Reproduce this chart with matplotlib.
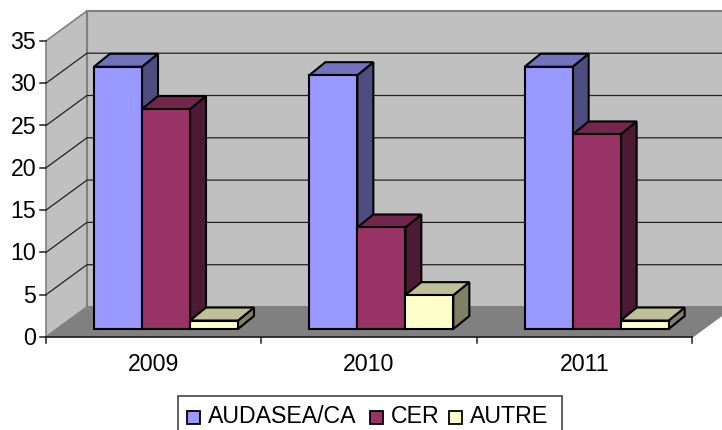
import matplotlib
matplotlib.use('Agg')
import matplotlib.pyplot as plt
from matplotlib.patches import Polygon, Rectangle

plt.rcParams['font.family'] = ['Liberation Sans', 'DejaVu Sans']

years = ['2009', '2010', '2011']
series_names = ['AUDASEA/CA', 'CER', 'AUTRE']
audasea = [31, 30, 31]
cer = [26, 12, 23]
autre = [1, 4, 1]
y_ticks = [0, 5, 10, 15, 20, 25, 30, 35]

front_colors = ['#9999ff', '#993366', '#ffffcc']
top_colors = ['#7272bf', '#73264c', '#bfbf99']
side_colors = ['#4d4d80', '#4d1a33', '#808066']

# pixel geometry of the fake 3d box
X0, X1 = 46, 692
Y0 = 337
UNIT = 8.46
DX, DY = 41, -30
BAR_W = 48
BAR_DX, BAR_DY = 16, -13
BASE_SHIFT_X, BASE_SHIFT_Y = 48, -8
GROUP_W = (X1 - X0) / len(years)
FONT = 16.7


def vy(v):
    return Y0 - v * UNIT


fig = plt.figure(figsize=(7.22, 4.30), dpi=100)
ax = fig.add_axes([0, 0, 1, 1])
ax.set_xlim(0, 722)
ax.set_ylim(430, 0)
ax.axis('off')

top = y_ticks[-1]
# walls and floor
ax.add_patch(Polygon([(X0, vy(0)), (X0 + DX, vy(0) + DY), (X0 + DX, vy(top) + DY), (X0, vy(top))],
                     fc='#c0c0c0', ec='#808080', lw=1.2, zorder=1))
ax.add_patch(Rectangle((X0 + DX, vy(top) + DY), 700, vy(0) - vy(top),
                       fc='#c0c0c0', ec='#808080', lw=1.5, zorder=1))
ax.add_patch(Polygon([(X0, vy(0)), (X0 + DX, vy(0) + DY), (X1 + DX, vy(0) + DY), (X1, vy(0))],
                     fc='#808080', ec='#808080', lw=1, zorder=2))

# gridlines
for t in y_ticks[1:-1]:
    ax.plot([X0, X0 + DX, 722], [vy(t), vy(t) + DY, vy(t) + DY], color='#222222', lw=0.9, zorder=3)

# bars
for i in range(len(years)):
    vals = [audasea[i], cer[i], autre[i]]
    for j, v in enumerate(vals):
        x = X0 + BASE_SHIFT_X + i * GROUP_W + j * BAR_W
        b = vy(0) + BASE_SHIFT_Y
        t = b - v * UNIT
        ax.add_patch(Polygon([(x + BAR_W, b), (x + BAR_W + BAR_DX, b + BAR_DY),
                              (x + BAR_W + BAR_DX, t + BAR_DY), (x + BAR_W, t)],
                             fc=side_colors[j], ec='black', lw=1.5, zorder=4 + j))
        ax.add_patch(Polygon([(x, t), (x + BAR_DX, t + BAR_DY), (x + BAR_W + BAR_DX, t + BAR_DY), (x + BAR_W, t)],
                             fc=top_colors[j], ec='black', lw=1.5, zorder=4 + j))
        ax.add_patch(Rectangle((x, t), BAR_W, b - t, fc=front_colors[j], ec='black', lw=1.5, zorder=4 + j))

# axes lines and ticks
ax.plot([X0, X1], [vy(0), vy(0)], color='#222222', lw=1.2, zorder=10)
ax.plot([X1, X1 + DX], [vy(0), vy(0) + DY], color='#808080', lw=1, zorder=3)
for t in y_ticks:
    ax.plot([X0 - 6, X0], [vy(t), vy(t)], color='#222222', lw=1.1, zorder=10)
    ax.text(36, vy(t) + 8, str(t), ha='right', va='baseline', fontsize=FONT, color='black')
for i in range(len(years) + 1):
    xt = X0 + i * GROUP_W
    ax.plot([xt, xt], [vy(0), vy(0) + 6], color='#222222', lw=1.1, zorder=10)
for i, yr in enumerate(years):
    ax.text(X0 + (i + 0.5) * GROUP_W, 371, yr, ha='center', va='baseline', fontsize=FONT, color='black')

# legend
ax.add_patch(Rectangle((178, 396), 384, 40, fc='white', ec='#444444', lw=1.2, clip_on=True, zorder=10))
leg_x = [187, 370, 449]
for x, name, c in zip(leg_x, series_names, front_colors):
    ax.add_patch(Rectangle((x, 411), 13, 13, fc=c, ec='black', lw=1.3, zorder=11))
    ax.text(x + 21, 423, name, ha='left', va='baseline', fontsize=FONT, color='black', zorder=11)

fig.savefig('out.png', dpi=100)
